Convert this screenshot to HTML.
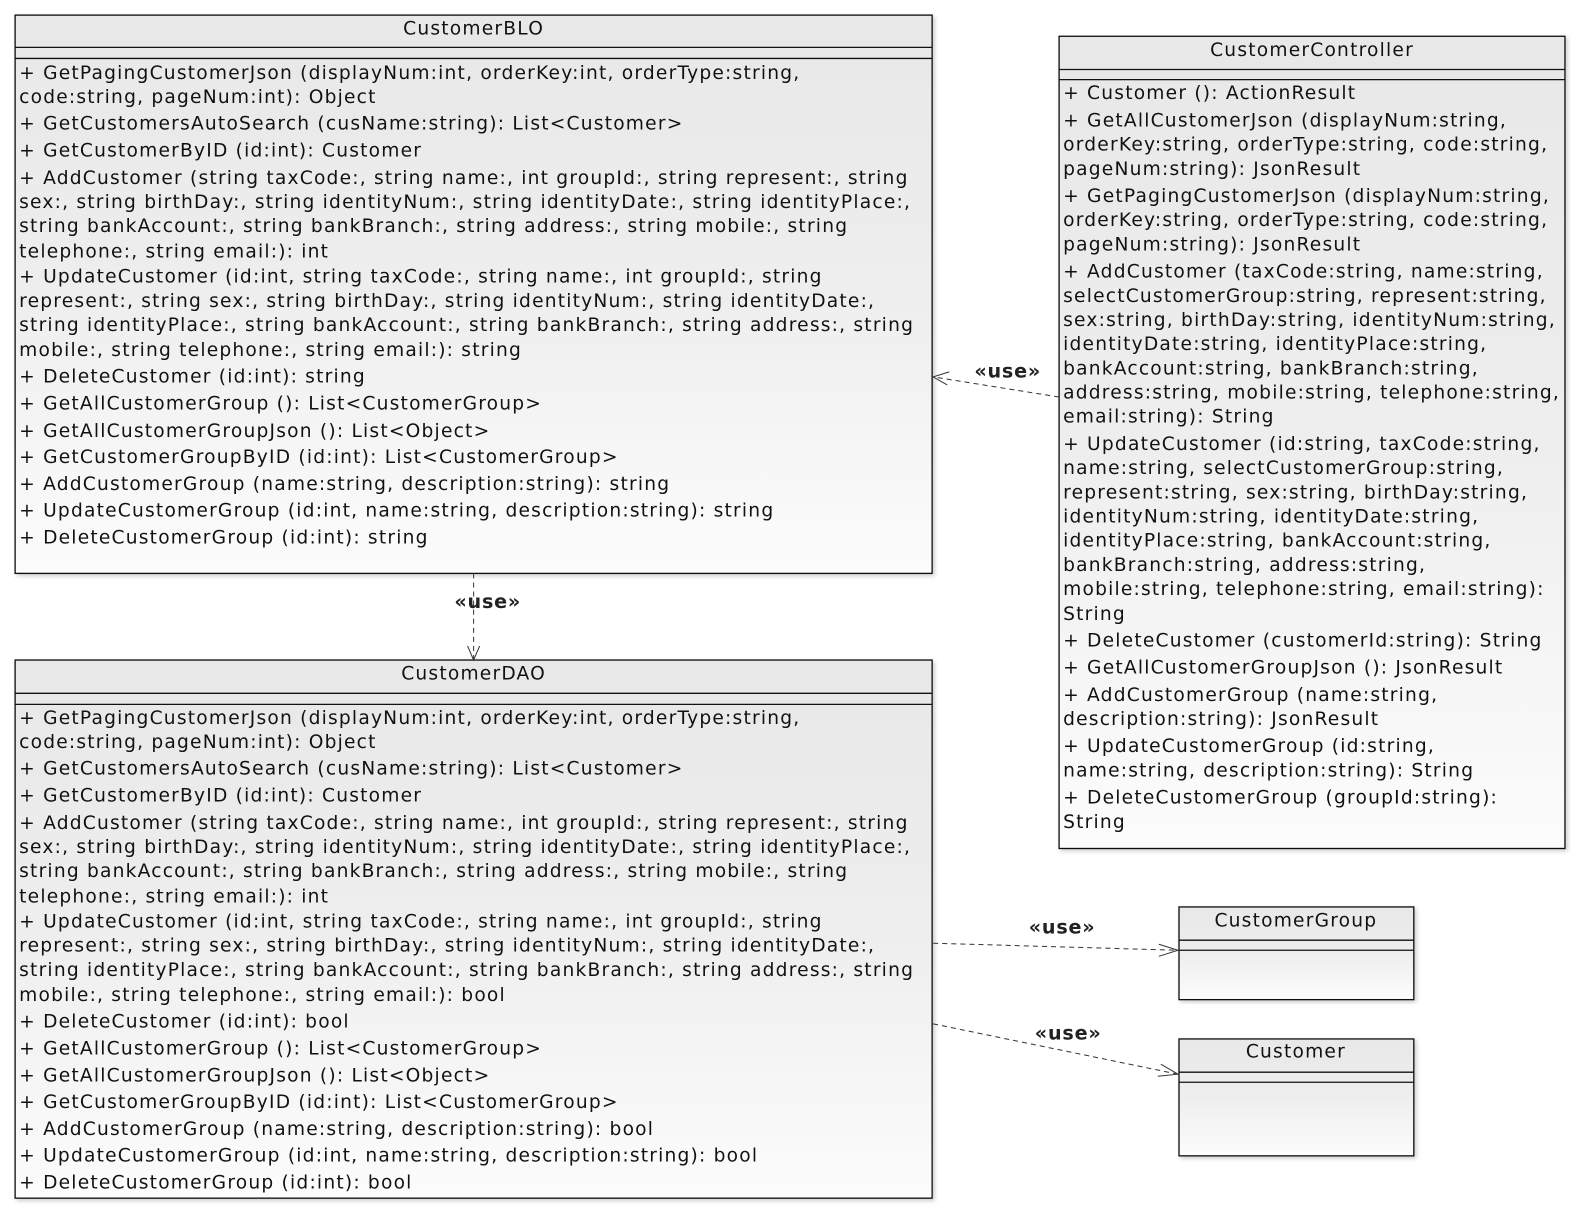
<!DOCTYPE html>
<html><head><meta charset="utf-8"><style>
html,body{margin:0;padding:0;background:#fff;}
svg{display:block;}
text{font-family:"DejaVu Sans","Liberation Sans",sans-serif;font-size:18.5px;fill:#111;dominant-baseline:central;letter-spacing:1.2px;}
.t{text-anchor:middle;}
.u{font-weight:bold;font-size:19px;fill:#222;text-anchor:middle;letter-spacing:0.8px;}
.b{stroke:#111;stroke-width:1.3;}
.d{stroke:#333;stroke-width:1;stroke-dasharray:5,4;fill:none;}
.a{stroke:#333;stroke-width:1;fill:none;}
</style></head><body>
<svg width="1580" height="1212" viewBox="0 0 1580 1212" xmlns="http://www.w3.org/2000/svg">
<defs>
<linearGradient id="g" x1="0" y1="0" x2="0" y2="1"><stop offset="0" stop-color="#e8e8e8"/><stop offset="0.5" stop-color="#eeeeee"/><stop offset="1" stop-color="#fcfcfc"/></linearGradient>
<filter id="s" x="-5%" y="-5%" width="110%" height="110%"><feDropShadow dx="2" dy="2" stdDeviation="2" flood-color="#000" flood-opacity="0.2"/></filter>
</defs>
<g transform="scale(1.0077)">
<!-- CustomerBLO -->
<rect x="15" y="15" width="910" height="554" fill="url(#g)" class="b" filter="url(#s)"/>
<line x1="15" y1="47" x2="925" y2="47" class="b"/><line x1="15" y1="58" x2="925" y2="58" class="b"/>
<text x="470" y="29" class="t">CustomerBLO</text>
<g>
<text x="19" y="73">+ GetPagingCustomerJson (displayNum:int, orderKey:int, orderType:string,</text>
<text x="19" y="97">code:string, pageNum:int): Object</text>
<text x="19" y="123">+ GetCustomersAutoSearch (cusName:string): List&lt;Customer&gt;</text>
<text x="19" y="150">+ GetCustomerByID (id:int): Customer</text>
<text x="19" y="177">+ AddCustomer (string taxCode:, string name:, int groupId:, string represent:, string</text>
<text x="19" y="201">sex:, string birthDay:, string identityNum:, string identityDate:, string identityPlace:,</text>
<text x="19" y="225">string bankAccount:, string bankBranch:, string address:, string mobile:, string</text>
<text x="19" y="250">telephone:, string email:): int</text>
<text x="19" y="275">+ UpdateCustomer (id:int, string taxCode:, string name:, int groupId:, string</text>
<text x="19" y="299">represent:, string sex:, string birthDay:, string identityNum:, string identityDate:,</text>
<text x="19" y="323">string identityPlace:, string bankAccount:, string bankBranch:, string address:, string</text>
<text x="19" y="348">mobile:, string telephone:, string email:): string</text>
<text x="19" y="374">+ DeleteCustomer (id:int): string</text>
<text x="19" y="401">+ GetAllCustomerGroup (): List&lt;CustomerGroup&gt;</text>
<text x="19" y="428">+ GetAllCustomerGroupJson (): List&lt;Object&gt;</text>
<text x="19" y="454">+ GetCustomerGroupByID (id:int): List&lt;CustomerGroup&gt;</text>
<text x="19" y="481">+ AddCustomerGroup (name:string, description:string): string</text>
<text x="19" y="507">+ UpdateCustomerGroup (id:int, name:string, description:string): string</text>
<text x="19" y="534">+ DeleteCustomerGroup (id:int): string</text>
</g>

<!-- CustomerDAO -->
<rect x="15" y="655" width="910" height="534" fill="url(#g)" class="b" filter="url(#s)"/>
<line x1="15" y1="688" x2="925" y2="688" class="b"/><line x1="15" y1="699" x2="925" y2="699" class="b"/>
<text x="470" y="669" class="t">CustomerDAO</text>
<g>
<text x="19" y="713">+ GetPagingCustomerJson (displayNum:int, orderKey:int, orderType:string,</text>
<text x="19" y="737">code:string, pageNum:int): Object</text>
<text x="19" y="763">+ GetCustomersAutoSearch (cusName:string): List&lt;Customer&gt;</text>
<text x="19" y="790">+ GetCustomerByID (id:int): Customer</text>
<text x="19" y="817">+ AddCustomer (string taxCode:, string name:, int groupId:, string represent:, string</text>
<text x="19" y="841">sex:, string birthDay:, string identityNum:, string identityDate:, string identityPlace:,</text>
<text x="19" y="865">string bankAccount:, string bankBranch:, string address:, string mobile:, string</text>
<text x="19" y="890">telephone:, string email:): int</text>
<text x="19" y="915">+ UpdateCustomer (id:int, string taxCode:, string name:, int groupId:, string</text>
<text x="19" y="939">represent:, string sex:, string birthDay:, string identityNum:, string identityDate:,</text>
<text x="19" y="963">string identityPlace:, string bankAccount:, string bankBranch:, string address:, string</text>
<text x="19" y="988">mobile:, string telephone:, string email:): bool</text>
<text x="19" y="1014">+ DeleteCustomer (id:int): bool</text>
<text x="19" y="1041">+ GetAllCustomerGroup (): List&lt;CustomerGroup&gt;</text>
<text x="19" y="1068">+ GetAllCustomerGroupJson (): List&lt;Object&gt;</text>
<text x="19" y="1094">+ GetCustomerGroupByID (id:int): List&lt;CustomerGroup&gt;</text>
<text x="19" y="1121">+ AddCustomerGroup (name:string, description:string): bool</text>
<text x="19" y="1147">+ UpdateCustomerGroup (id:int, name:string, description:string): bool</text>
<text x="19" y="1174">+ DeleteCustomerGroup (id:int): bool</text>
</g>

<!-- CustomerController -->
<rect x="1051" y="36" width="502" height="806" fill="url(#g)" class="b" filter="url(#s)"/>
<line x1="1051" y1="69" x2="1553" y2="69" class="b"/><line x1="1051" y1="79" x2="1553" y2="79" class="b"/>
<text x="1302" y="50" class="t">CustomerController</text>
<g>
<text x="1055" y="93">+ Customer (): ActionResult</text>
<text x="1055" y="120">+ GetAllCustomerJson (displayNum:string,</text>
<text x="1055" y="144">orderKey:string, orderType:string, code:string,</text>
<text x="1055" y="168">pageNum:string): JsonResult</text>
<text x="1055" y="195">+ GetPagingCustomerJson (displayNum:string,</text>
<text x="1055" y="219">orderKey:string, orderType:string, code:string,</text>
<text x="1055" y="243">pageNum:string): JsonResult</text>
<text x="1055" y="270">+ AddCustomer (taxCode:string, name:string,</text>
<text x="1055" y="294">selectCustomerGroup:string, represent:string,</text>
<text x="1055" y="318">sex:string, birthDay:string, identityNum:string,</text>
<text x="1055" y="342">identityDate:string, identityPlace:string,</text>
<text x="1055" y="366">bankAccount:string, bankBranch:string,</text>
<text x="1055" y="390">address:string, mobile:string, telephone:string,</text>
<text x="1055" y="414">email:string): String</text>
<text x="1055" y="441">+ UpdateCustomer (id:string, taxCode:string,</text>
<text x="1055" y="465">name:string, selectCustomerGroup:string,</text>
<text x="1055" y="489">represent:string, sex:string, birthDay:string,</text>
<text x="1055" y="513">identityNum:string, identityDate:string,</text>
<text x="1055" y="537">identityPlace:string, bankAccount:string,</text>
<text x="1055" y="561">bankBranch:string, address:string,</text>
<text x="1055" y="585">mobile:string, telephone:string, email:string):</text>
<text x="1055" y="610">String</text>
<text x="1055" y="636">+ DeleteCustomer (customerId:string): String</text>
<text x="1055" y="663">+ GetAllCustomerGroupJson (): JsonResult</text>
<text x="1055" y="690">+ AddCustomerGroup (name:string,</text>
<text x="1055" y="714">description:string): JsonResult</text>
<text x="1055" y="741">+ UpdateCustomerGroup (id:string,</text>
<text x="1055" y="765">name:string, description:string): String</text>
<text x="1055" y="792">+ DeleteCustomerGroup (groupId:string):</text>
<text x="1055" y="816">String</text>
</g>

<!-- CustomerGroup -->
<rect x="1170" y="900" width="233" height="92" fill="url(#g)" class="b" filter="url(#s)"/>
<line x1="1170" y1="933" x2="1403" y2="933" class="b"/><line x1="1170" y1="943" x2="1403" y2="943" class="b"/>
<text x="1286" y="914" class="t">CustomerGroup</text>

<!-- Customer -->
<rect x="1170" y="1031" width="233" height="116" fill="url(#g)" class="b" filter="url(#s)"/>
<line x1="1170" y1="1064" x2="1403" y2="1064" class="b"/><line x1="1170" y1="1074" x2="1403" y2="1074" class="b"/>
<text x="1286" y="1044" class="t">Customer</text>

<!-- connectors -->
<line x1="470" y1="569" x2="470" y2="654" class="d"/>
<polyline points="464,641 470,655 476,641" class="a"/>
<text x="484" y="597" class="u">«use»</text>

<line x1="1051" y1="394" x2="926" y2="374" class="d"/>
<polyline points="942,369 926,374 940,382" class="a"/>
<text x="1000" y="368" class="u">«use»</text>

<line x1="926" y1="936" x2="1169" y2="943" class="d"/>
<polyline points="1150,937 1169,943 1150,949" class="a"/>
<text x="1054" y="920" class="u">«use»</text>

<line x1="926" y1="1016" x2="1169" y2="1066" class="d"/>
<polyline points="1152,1056 1169,1066 1149,1068" class="a"/>
<text x="1060" y="1025" class="u">«use»</text>
</g>
</svg>
</body></html>
